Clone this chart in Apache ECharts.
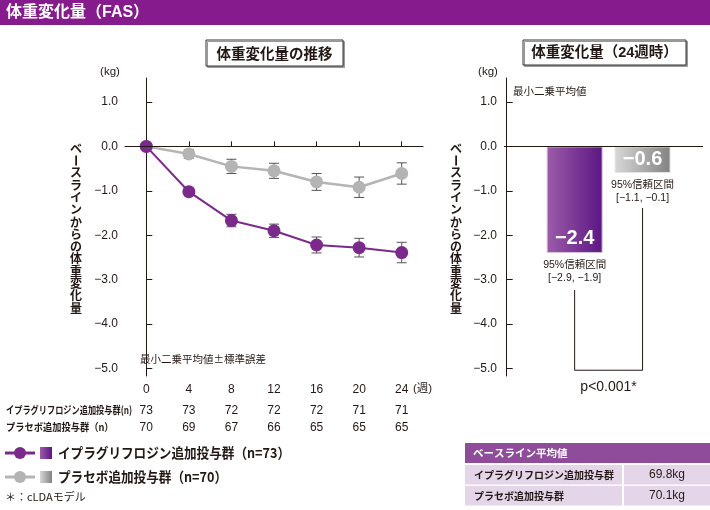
<!DOCTYPE html>
<html>
<head>
<meta charset="utf-8">
<script src="https://cdn.jsdelivr.net/npm/echarts@6/dist/echarts.min.js"></script>
<style>
html,body{margin:0;padding:0;background:#fff;}
#c{width:710px;height:510px;}
</style>
</head>
<body>
<div id="c"></div>
<script>
// ---------------- data ----------------
const weeks = [0, 4, 8, 12, 16, 20, 24];
const yTicks = [-5, -4, -3, -2, -1, 0, 1];
const ipraMean = [0, -1.02, -1.67, -1.90, -2.22, -2.28, -2.39];
const ipraSE   = [0, 0.08, 0.14, 0.15, 0.18, 0.21, 0.23];
const placMean = [0, -0.17, -0.45, -0.55, -0.80, -0.92, -0.61];
const placSE   = [0, 0.10, 0.16, 0.17, 0.19, 0.23, 0.24];
const ipraN = [73, 73, 72, 72, 72, 71, 71];
const placN = [70, 69, 67, 66, 65, 65, 65];
const groupNames = ['イプラグリフロジン追加投与群', 'プラセボ追加投与群'];
const groupTotals = [73, 70];
const week24Mean = [-2.4, -0.6];
const ciLow = [-2.9, -1.1];
const ciHigh = [-1.9, -0.1];
const barSlot = [1, 2];
const baseline = [69.8, 70.1];
const pText = 'p<0.001*';

const JP = '"Noto Sans CJK JP"';
const LAT = '"Liberation Sans", "Noto Sans CJK JP"';
const PURPLE = '#7b2a8c';
const GRAY = '#b4b4b4';
const INK = '#231815';

const fmtNum = v => (v < 0 ? '\u2212' : '') + Math.abs(v).toFixed(1);

const chart = echarts.init(document.getElementById('c'), null, {renderer: 'canvas'});

function errData(mean, se) {
  const out = [];
  for (let i = 0; i < weeks.length; i++) {
    if (se[i] > 0) out.push([weeks[i], mean[i] - se[i], mean[i] + se[i]]);
  }
  return out;
}
function errRender(params, api) {
  const x = api.value(0), lo = api.value(1), hi = api.value(2);
  const t = api.coord([x, hi]), b = api.coord([x, lo]);
  const w = 5, st = {stroke: '#555', lineWidth: 1};
  return {type: 'group', children: [
    {type: 'line', shape: {x1: t[0], y1: t[1], x2: b[0], y2: b[1]}, style: st},
    {type: 'line', shape: {x1: t[0] - w, y1: t[1], x2: t[0] + w, y2: t[1]}, style: st},
    {type: 'line', shape: {x1: b[0] - w, y1: b[1], x2: b[0] + w, y2: b[1]}, style: st}
  ]};
}

const yAxisCommon = {
  type: 'value', min: -5.17, max: 1.54,
  axisLine: {show: true, lineStyle: {color: INK, width: 1}},
  axisTick: {show: true, inside: true, length: 6, customValues: yTicks, lineStyle: {color: INK}},
  axisLabel: {customValues: yTicks, formatter: v => fmtNum(v), color: INK, fontSize: 12, fontFamily: LAT, margin: 7},
  splitLine: {show: false}
};

const purpleGrad = new echarts.graphic.LinearGradient(0, 0, 1, 0, [
  {offset: 0, color: '#9d5ca9'}, {offset: 1, color: '#5b1683'}]);
const grayGrad = new echarts.graphic.LinearGradient(0, 0, 1, 0, [
  {offset: 0, color: '#d8d8d8'}, {offset: 1, color: '#828282'}]);

const option = {
  animation: false,
  backgroundColor: '#fff',
  grid: [
    {left: 125, width: 298, top: 78, bottom: 134},
    {left: 504, right: 7, top: 78, bottom: 134}
  ],
  xAxis: [
    {
      gridIndex: 0, type: 'value', min: -2, max: 26,
      axisLine: {show: true, lineStyle: {color: INK, width: 1}},
      axisTick: {show: true, inside: true, length: 5, customValues: weeks, lineStyle: {color: INK}},
      axisLabel: {
        customValues: weeks, margin: 1, fontFamily: LAT, color: INK,
        formatter: v => {
          const i = weeks.indexOf(v);
          return '{w|' + v + '}\n{n|' + ipraN[i] + '}\n{n|' + placN[i] + '}';
        },
        rich: {
          w: {fontSize: 12, lineHeight: 25, fontFamily: LAT, color: INK},
          n: {fontSize: 12, lineHeight: 17, fontFamily: LAT, color: INK}
        }
      },
      splitLine: {show: false}
    },
    {
      gridIndex: 1, type: 'value', min: -0.04, max: 2.89, show: false
    }
  ],
  yAxis: [
    Object.assign({gridIndex: 0}, yAxisCommon),
    Object.assign({gridIndex: 1}, yAxisCommon)
  ],
  series: [
    {
      type: 'custom', name: 'errP', xAxisIndex: 0, yAxisIndex: 0, z: 2,
      renderItem: errRender, data: errData(placMean, placSE), encode: {x: 0, y: [1, 2]}
    },
    {
      type: 'custom', name: 'errI', xAxisIndex: 0, yAxisIndex: 0, z: 2,
      renderItem: errRender, data: errData(ipraMean, ipraSE), encode: {x: 0, y: [1, 2]}
    },
    {
      type: 'line', name: groupNames[1], xAxisIndex: 0, yAxisIndex: 0, z: 3,
      data: weeks.map((w, i) => [w, placMean[i]]),
      symbol: 'circle', symbolSize: 13,
      lineStyle: {color: GRAY, width: 2.5}, itemStyle: {color: GRAY},
      markLine: {
        silent: true, symbol: 'none', label: {show: false},
        lineStyle: {color: INK, type: 'solid', width: 1},
        data: [{yAxis: 0}]
      }
    },
    {
      type: 'line', name: groupNames[0], xAxisIndex: 0, yAxisIndex: 0, z: 4,
      data: weeks.map((w, i) => [w, ipraMean[i]]),
      symbol: 'circle', symbolSize: 13,
      lineStyle: {color: PURPLE, width: 2}, itemStyle: {color: PURPLE}
    },
    {
      type: 'bar', xAxisIndex: 1, yAxisIndex: 1, barWidth: 56,
      data: week24Mean.map((v, i) => ({
        value: [barSlot[i], v],
        itemStyle: {color: i === 0 ? purpleGrad : grayGrad, borderColor: i === 0 ? '#d7c2dc' : '#e6e6e6', borderWidth: 1},
        label: i === 0 ? {position: 'insideBottom', distance: 4} : {position: 'inside'}
      })),
      label: {
        show: true, color: '#fff', fontSize: 20, fontWeight: 'bold', fontFamily: LAT,
        formatter: p => fmtNum(p.value[1])
      },
      markLine: {
        silent: true, symbol: 'none', label: {show: false},
        lineStyle: {color: INK, type: 'solid', width: 1},
        data: [{yAxis: 0}]
      }
    }
  ]
};
chart.setOption(option);

// ---------------- annotations ----------------
const px = (xi, yi, pt) => chart.convertToPixel({xAxisIndex: xi, yAxisIndex: yi}, pt);
const yTitle = 'ベースラインからの体重変化量';

const g = [];
// title band
g.push({type: 'rect', shape: {x: 0, y: 0, width: 710, height: 25}, style: {fill: '#861b8d'}});
g.push({type: 'text', x: 6, y: 13, style: {text: '体重変化量（FAS）', fill: '#fff', font: 'bold 16px ' + LAT, verticalAlign: 'middle'}});
// boxed subtitles
g.push({type: 'rect', shape: {x: 206, y: 40, width: 137, height: 26}, style: {fill: '#fff', stroke: '#333', lineWidth: 1, shadowColor: '#999', shadowOffsetX: 1.5, shadowOffsetY: 1.5}});
g.push({type: 'text', x: 274.5, y: 53.5, style: {text: '体重変化量の推移', fill: INK, font: 'bold 14.5px ' + JP, align: 'center', verticalAlign: 'middle'}});
g.push({type: 'rect', shape: {x: 523, y: 40, width: 163, height: 25}, style: {fill: '#fff', stroke: '#333', lineWidth: 1, shadowColor: '#999', shadowOffsetX: 1.5, shadowOffsetY: 1.5}});
g.push({type: 'text', x: 604.5, y: 53, style: {text: '体重変化量（24週時）', fill: INK, font: 'bold 14.5px ' + LAT, align: 'center', verticalAlign: 'middle'}});
// units
g.push({type: 'text', x: 110, y: 72, style: {text: '(kg)', fill: INK, font: '11.5px ' + LAT, align: 'center', verticalAlign: 'middle'}});
g.push({type: 'text', x: 488, y: 72, style: {text: '(kg)', fill: INK, font: '11.5px ' + LAT, align: 'center', verticalAlign: 'middle'}});
// vertical y titles (one glyph per line; long-vowel mark rotated)
[76, 456].forEach(x => {
  yTitle.split('').forEach((ch, i) => {
    const cy = 142 + 12.3 * i + 6.15;
    g.push({type: 'text', x: x, y: cy, rotation: ch === 'ー' ? -Math.PI / 2 : 0,
      style: {text: ch, fill: INK, font: 'bold 12px ' + JP, align: 'center', verticalAlign: 'middle'}});
  });
});
// notes
g.push({type: 'text', x: 140, y: 359, style: {text: '最小二乗平均値±標準誤差', fill: INK, font: '10.5px ' + JP, verticalAlign: 'middle'}});
g.push({type: 'text', x: 513, y: 91, style: {text: '最小二乗平均値', fill: INK, font: '10.5px ' + JP, verticalAlign: 'middle'}});
g.push({type: 'text', x: 413, y: 389, style: {text: '(週)', fill: INK, font: '11.5px ' + LAT, verticalAlign: 'middle'}});
// n row labels
g.push({type: 'text', x: 6, y: 410, scaleX: 0.78, style: {text: groupNames[0] + '(n)', fill: INK, font: 'bold 10.5px ' + JP, verticalAlign: 'middle'}});
g.push({type: 'text', x: 6, y: 427, scaleX: 0.88, style: {text: groupNames[1] + '（n）', fill: INK, font: 'bold 10.5px ' + JP, verticalAlign: 'middle'}});
// legend
const legY = [453, 477], legCol = [PURPLE, GRAY], legGrad = [purpleGrad, grayGrad];
for (let i = 0; i < 2; i++) {
  g.push({type: 'line', shape: {x1: 5, y1: legY[i], x2: 35, y2: legY[i]}, style: {stroke: legCol[i], lineWidth: 3}});
  g.push({type: 'circle', shape: {cx: 20, cy: legY[i], r: 6}, style: {fill: legCol[i]}});
  g.push({type: 'rect', shape: {x: 40, y: legY[i] - 6, width: 12, height: 12}, style: {fill: legGrad[i]}});
  g.push({type: 'text', x: 58, y: legY[i], scaleX: 0.9, style: {text: groupNames[i] + '（n=' + groupTotals[i] + '）', fill: INK, font: 'bold 14px ' + JP, verticalAlign: 'middle'}});
}
g.push({type: 'text', x: 5, y: 497, style: {text: '＊：cLDAモデル', fill: INK, font: '11px ' + JP, verticalAlign: 'middle'}});
// baseline table
g.push({type: 'rect', shape: {x: 465, y: 443, width: 245, height: 20}, style: {fill: '#8e4c9b'}});
g.push({type: 'text', x: 473, y: 453, style: {text: 'ベースライン平均値', fill: '#fff', font: 'bold 10.5px ' + JP, verticalAlign: 'middle'}});
const rowY = [465, 486];
for (let i = 0; i < 2; i++) {
  g.push({type: 'rect', shape: {x: 465, y: rowY[i], width: 157, height: 19.5}, style: {fill: '#e4d6e8'}});
  g.push({type: 'rect', shape: {x: 624, y: rowY[i], width: 86, height: 19.5}, style: {fill: '#e4d6e8'}});
  g.push({type: 'text', x: 474, y: rowY[i] + 10, style: {text: groupNames[i], fill: INK, font: 'bold 10px ' + JP, verticalAlign: 'middle'}});
  g.push({type: 'text', x: 667, y: rowY[i] + 10, style: {text: baseline[i].toFixed(1) + 'kg', fill: INK, font: '12px ' + LAT, align: 'center', verticalAlign: 'middle'}});
}
// CI annotations + bracket
const barPts = week24Mean.map((v, i) => px(1, 1, [barSlot[i], v]));
for (let i = 0; i < 2; i++) {
  const [cx, by] = barPts[i];
  g.push({type: 'text', x: cx, y: by + 12.5, style: {text: '95%信頼区間', fill: INK, font: '10.5px ' + LAT, align: 'center', verticalAlign: 'middle'}});
  g.push({type: 'text', x: cx, y: by + 25.5, style: {text: '[' + fmtNum(ciLow[i]) + ', ' + fmtNum(ciHigh[i]) + ']', fill: INK, font: '10.5px ' + LAT, align: 'center', verticalAlign: 'middle'}});
}
const yb = px(1, 1, [0, -5.04])[1];
g.push({type: 'polyline', shape: {points: [
  [barPts[0][0], barPts[0][1] + 37], [barPts[0][0], yb], [barPts[1][0], yb], [barPts[1][0], barPts[1][1] + 35]
]}, style: {stroke: INK, lineWidth: 1, fill: null}});
g.push({type: 'text', x: (barPts[0][0] + barPts[1][0]) / 2, y: yb + 17, style: {text: pText, fill: INK, font: '14px ' + LAT, align: 'center', verticalAlign: 'middle'}});

chart.setOption({graphic: g});
</script>
</body>
</html>
